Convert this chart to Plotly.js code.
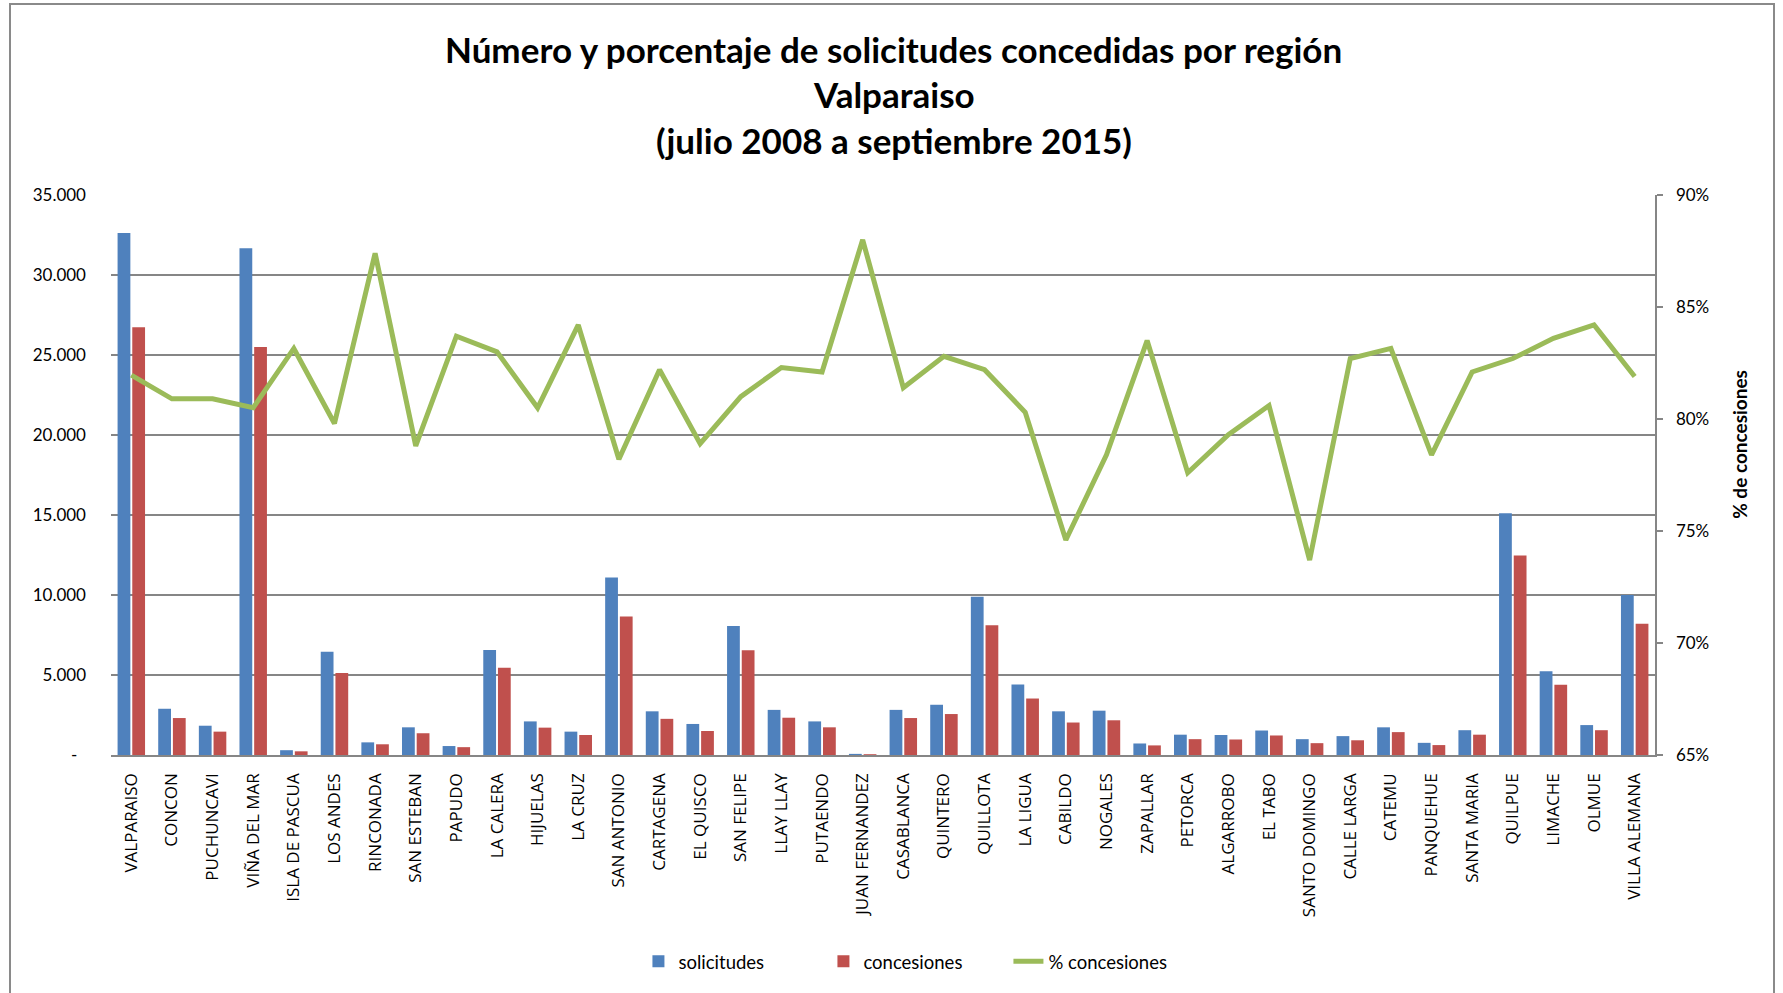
<!DOCTYPE html>
<html>
<head>
<meta charset="utf-8">
<script src="https://cdn.plot.ly/plotly-3.0.1.min.js"></script>
<style>
  html, body { margin:0; padding:0; background:#fff; overflow:hidden; }
  #chart { width:1783px; height:993px; }
  #frame { position:absolute; left:9px; top:3px; width:1762px; height:1100px; border:2px solid #8a8a8a; pointer-events:none; }
</style>
</head>
<body>
<div id="chart"></div>
<div id="frame"></div>
<script>
const categories = ["VALPARAISO","CONCON","PUCHUNCAVI","VIÑA DEL MAR","ISLA DE PASCUA","LOS ANDES","RINCONADA","SAN ESTEBAN","PAPUDO","LA CALERA","HIJUELAS","LA CRUZ","SAN ANTONIO","CARTAGENA","EL QUISCO","SAN FELIPE","LLAY LLAY","PUTAENDO","JUAN FERNANDEZ","CASABLANCA","QUINTERO","QUILLOTA","LA LIGUA","CABILDO","NOGALES","ZAPALLAR","PETORCA","ALGARROBO","EL TABO","SANTO DOMINGO","CALLE LARGA","CATEMU","PANQUEHUE","SANTA MARIA","QUILPUE","LIMACHE","OLMUE","VILLA ALEMANA"];
const solicitudes = [32620,2890,1830,31670,300,6450,790,1730,560,6560,2100,1460,11090,2730,1940,8060,2820,2100,70,2820,3140,9890,4410,2730,2770,720,1270,1250,1530,990,1180,1730,760,1550,15110,5240,1870,10000];
const concesiones = [26730,2310,1460,25500,230,5130,670,1360,490,5450,1710,1250,8660,2260,1500,6540,2330,1730,50,2310,2560,8110,3530,2030,2170,600,990,970,1220,740,920,1430,620,1270,12470,4390,1550,8200];
const pctConcesiones = [81.96,80.9,80.9,80.5,83.15,79.8,87.4,78.8,83.7,83.0,80.5,84.2,78.2,82.2,78.9,81.0,82.3,82.1,88.0,81.4,82.8,82.2,80.3,74.6,78.4,83.5,77.6,79.3,80.6,73.7,82.7,83.15,78.4,82.1,82.7,83.6,84.2,81.9];
const leftTickVals = [0,5000,10000,15000,20000,25000,30000,35000];
const leftTickText = ["-\u00a0\u00a0","5.000","10.000","15.000","20.000","25.000","30.000","35.000"];
const titleLines = ["Número y porcentaje de solicitudes concedidas por región","Valparaiso","(julio 2008 a septiembre 2015)"];
const rightAxisTitle = "% de concesiones";

const traces = [
  {type:'bar', name:'solicitudes', x:categories, y:solicitudes, marker:{color:'#4F81BD'}, hoverinfo:'x+y'},
  {type:'bar', name:'concesiones', x:categories, y:concesiones, marker:{color:'#C0504D'}, hoverinfo:'x+y'},
  {type:'scatter', mode:'lines', name:'% concesiones', x:categories, y:pctConcesiones, yaxis:'y2', line:{color:'#9BBB59', width:5}}
];

const plotTop = 194.5, plotBottom = 755, plotLeft = 110.7, plotRight = 1655.4;
const py = p => (plotBottom - p) / (plotBottom - plotTop);
const px = p => (p - plotLeft) / (plotRight - plotLeft);

const titleY = [48, 93, 139];
const annotations = titleLines.map((t, i) => ({
  text: t, xref:'paper', yref:'paper', x: px(894), y: py(titleY[i]), xanchor:'center', yanchor:'middle',
  showarrow:false, font:{family:'Lato', size:35, color:'#000', weight:'bold'}
}));
annotations.push({
  text: rightAxisTitle, xref:'paper', yref:'paper', x: px(1740), y: py(444), textangle:-90,
  xanchor:'center', yanchor:'middle', showarrow:false, font:{family:'Lato', size:19, color:'#000', weight:'bold'}
});

const layout = {
  width:1783, height:993,
  margin:{l:plotLeft, r:1783-plotRight, t:plotTop, b:993-plotBottom, pad:0},
  paper_bgcolor:'#fff', plot_bgcolor:'#fff',
  barmode:'group', bargap:0.277, bargroupgap:0.13,
  showlegend:true,
  font:{family:'Lato', color:'#000'},
  xaxis:{type:'category', tickangle:-90, tickfont:{family:'Open Sans', size:17, color:'#000'},
         showline:true, linecolor:'#868686', linewidth:1.5, ticks:'', ticklabelstandoff:10, showgrid:false, zeroline:false},
  yaxis:{range:[0,35000], tickmode:'array', tickvals:leftTickVals, ticktext:leftTickText, showgrid:true, gridcolor:'#868686', gridwidth:1.5,
         zeroline:false, showline:false, ticks:'', tickfont:{family:'Lato', size:17, color:'#000'}, ticklabelstandoff:24},
  yaxis2:{overlaying:'y', side:'right', range:[65,90], tick0:65, dtick:5, ticksuffix:'%', showgrid:false, showline:true,
          linecolor:'#868686', linewidth:1.5, ticks:'outside', ticklen:6, tickcolor:'#868686', tickwidth:1.5,
          tickfont:{family:'Lato', size:17, color:'#000'}, ticklabelstandoff:10, zeroline:false},
  legend:{orientation:'h', x:px(916), xanchor:'center', y:py(962), yanchor:'middle', entrywidth:140,
          font:{family:'Lato', size:18.5, color:'#000'}, bgcolor:'rgba(0,0,0,0)'},
  annotations: annotations
};

Plotly.newPlot('chart', traces, layout, {displayModeBar:false, staticPlot:true});
</script>
</body>
</html>
